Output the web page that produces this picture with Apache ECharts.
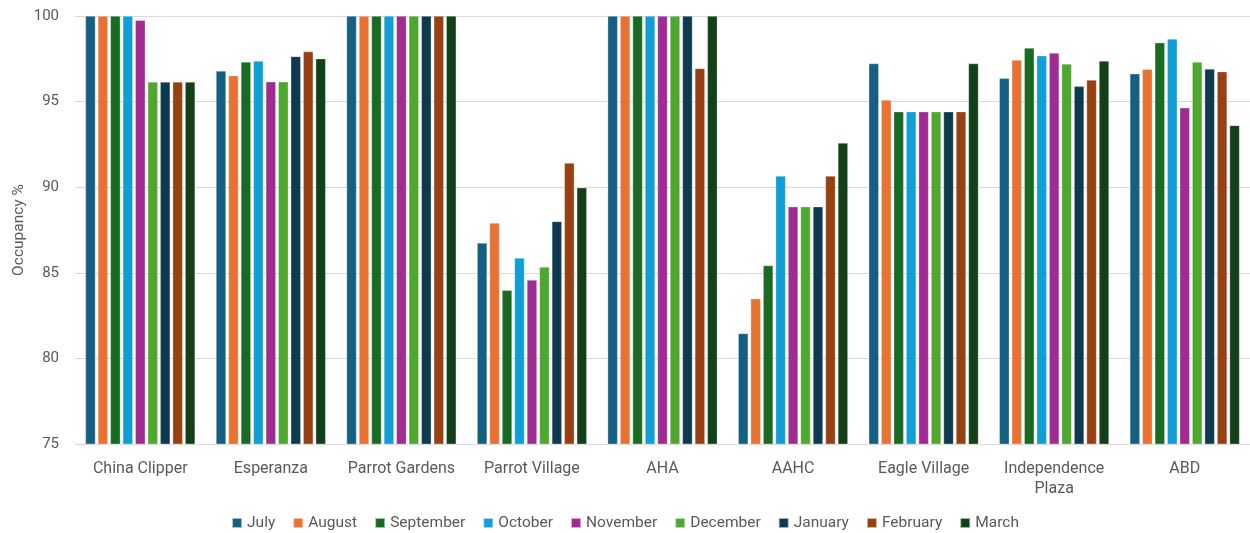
<!DOCTYPE html>
<html>
<head>
<meta charset="utf-8">
<script src="https://cdn.jsdelivr.net/npm/echarts@6/dist/echarts.min.js"></script>
<style>
  html, body { margin: 0; padding: 0; background: #fff; }
  #chart { width: 1250px; height: 533px; }
</style>
</head>
<body>
<div id="chart"></div>
<script>
// Properties along the category axis
const properties = ['China Clipper', 'Esperanza', 'Parrot Gardens', 'Parrot Village', 'AHA', 'AAHC', 'Eagle Village', 'Independence\nPlaza', 'ABD'];

// Monthly occupancy (%) per property, in the order of `properties`
const july      = [100, 96.79, 100, 86.74, 100, 81.46, 97.22, 96.36, 96.63];
const august    = [100, 96.51, 100, 87.91, 100, 83.49, 95.09, 97.43, 96.89];
const september = [100, 97.31, 100, 83.98, 100, 85.42, 94.41, 98.13, 98.44];
const october   = [100, 97.37, 100, 85.86, 100, 90.65, 94.41, 97.68, 98.66];
const november  = [99.75, 96.16, 100, 84.58, 100, 88.86, 94.41, 97.84, 94.64];
const december  = [96.15, 96.16, 100, 85.34, 100, 88.86, 94.41, 97.20, 97.31];
const january   = [96.15, 97.64, 100, 88.00, 100, 88.86, 94.41, 95.89, 96.90];
const february  = [96.15, 97.92, 100, 91.41, 96.94, 90.65, 94.41, 96.26, 96.75];
const march     = [96.15, 97.51, 100, 89.97, 100, 92.58, 97.22, 97.37, 93.61];

const monthNames = ['July', 'August', 'September', 'October', 'November', 'December', 'January', 'February', 'March'];
const monthValues = [july, august, september, october, november, december, january, february, march];
const monthColors = ['#156082', '#E97132', '#196B24', '#0F9ED5', '#A02B93', '#4EA72E', '#0E3A50', '#974011', '#114019'];

// Y axis scale
const yMin = 75;
const yMax = 100;
const yStep = 5;

const textColor = '#595959';
const fontFamily = 'Roboto, "Noto Sans", sans-serif';

const chart = echarts.init(document.getElementById('chart'), null, { renderer: 'canvas' });

chart.setOption({
  animation: false,
  backgroundColor: '#ffffff',
  textStyle: { fontFamily: fontFamily },
  grid: { left: 75, right: 0, top: 16, bottom: 89, containLabel: false },
  legend: {
    top: 510,
    left: 'center',
    itemWidth: 10,
    itemHeight: 10,
    itemGap: 17,
    icon: 'rect',
    textStyle: { color: textColor, fontSize: 15.5, fontFamily: fontFamily },
    data: monthNames
  },
  xAxis: {
    type: 'category',
    data: properties,
    axisLine: { show: true, lineStyle: { color: '#d9d9d9', width: 1 } },
    axisTick: { show: false },
    axisLabel: { color: textColor, fontSize: 16, margin: 15, lineHeight: 20, interval: 0 },
    splitLine: { show: false }
  },
  yAxis: {
    type: 'value',
    min: yMin,
    max: yMax,
    interval: yStep,
    axisLine: { show: false },
    axisTick: { show: false },
    axisLabel: { color: textColor, fontSize: 15, margin: 16 },
    splitLine: { show: true, lineStyle: { color: '#d9d9d9', width: 1 } }
  },
  // Vertical y-axis title beside the tick labels
  graphic: [{
    type: 'text',
    x: 19,
    y: 230,
    rotation: Math.PI / 2,
    style: {
      text: 'Occupancy %',
      fill: textColor,
      font: '15.5px ' + fontFamily,
      align: 'center',
      verticalAlign: 'middle'
    }
  }],
  series: monthNames.map((name, i) => ({
    name: name,
    type: 'bar',
    data: monthValues[i],
    barGap: '25%',
    barCategoryGap: '16%',
    itemStyle: {
      color: monthColors[i],
      borderColor: 'rgba(255,255,255,0.6)',
      borderWidth: 0.5
    }
  }))
});
</script>
</body>
</html>
